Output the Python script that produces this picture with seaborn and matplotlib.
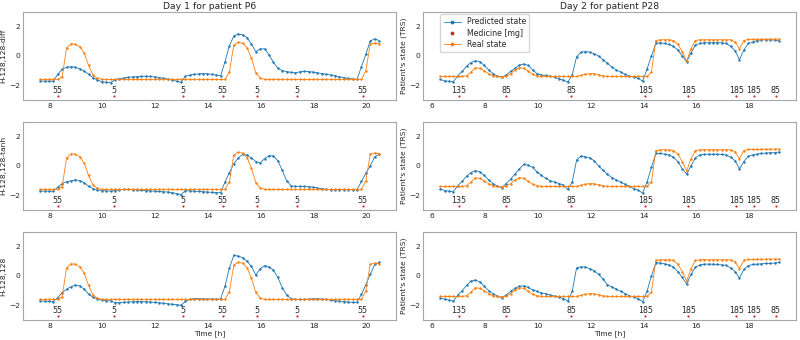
import numpy as np
import pandas as pd
import matplotlib
matplotlib.use("Agg")
import matplotlib.pyplot as plt
from matplotlib.lines import Line2D
from matplotlib.ticker import MultipleLocator
import seaborn as sns

# ---------------- data ----------------
# 10-minute sampling grids
t_day1 = 7.65 + np.arange(78) / 6.0
t_day2 = 6.30 + np.arange(78) / 6.0

real_day1 = [
    -1.6, -1.6, -1.6, -1.6, -1.6,
    -1.42, 0.55, 0.82, 0.8, 0.62, 0.2, -0.65, -1.3, -1.52,
    -1.6, -1.6, -1.6, -1.6, -1.6, -1.6, -1.6, -1.6, -1.6, -1.6,
    -1.6, -1.6, -1.6, -1.6, -1.6, -1.6, -1.6, -1.6, -1.6, -1.6,
    -1.6, -1.6, -1.6, -1.6, -1.6, -1.6, -1.6, -1.6, -1.6,
    -1.07, 0.75, 0.93, 0.87, 0.57, -0.16, -1.13, -1.5,
    -1.6, -1.6, -1.6, -1.6, -1.6, -1.6, -1.6, -1.6, -1.6, -1.6,
    -1.6, -1.6, -1.6, -1.6, -1.6, -1.6, -1.6, -1.6, -1.6, -1.6,
    -1.6, -1.6, -1.6,
    -1.0, 0.8, 0.88, 0.84,
]

pred_day1_diff = [
    -1.7, -1.72, -1.72, -1.72,
    -1.25, -0.91, -0.77, -0.73, -0.77, -0.89, -1.02, -1.25, -1.48, -1.64, -1.75, -1.8, -1.82,
    -1.62, -1.55, -1.5, -1.46, -1.43, -1.41, -1.39, -1.38, -1.4, -1.43, -1.47, -1.52, -1.58, -1.64, -1.72, -1.8,
    -1.38, -1.3, -1.25, -1.22, -1.2, -1.22, -1.25, -1.3, -1.36,
    -0.39, 0.7, 1.36, 1.5, 1.43, 1.25, 0.8, 0.3, 0.48, 0.48, 0.07, -0.43, -0.84, -1.0, -1.07,
    -1.12, -1.15, -1.08, -1.05, -1.07, -1.1, -1.15, -1.2, -1.25, -1.3, -1.35, -1.42, -1.48, -1.53, -1.57, -1.6,
    -0.73, 0.11, 1.02, 1.16, 1.05,
]

pred_day1_tanh = [
    -1.7, -1.72, -1.72, -1.72,
    -1.45, -1.2, -1.07, -1.02, -0.95, -1.0, -1.15, -1.38, -1.55, -1.63, -1.68, -1.7, -1.72,
    -1.68, -1.62, -1.6, -1.6, -1.62, -1.64, -1.66, -1.68, -1.7, -1.72, -1.74, -1.76, -1.78, -1.82, -1.88, -1.95,
    -1.68, -1.7, -1.72, -1.74, -1.76, -1.78, -1.8, -1.82, -1.82,
    -1.1, -0.45, 0.15, 0.55, 0.78, 0.75, 0.55, 0.3, 0.2, 0.5, 0.7, 0.68, 0.35, -0.3, -1.0,
    -1.35, -1.4, -1.4, -1.4, -1.42, -1.45, -1.5, -1.55, -1.6, -1.62, -1.62, -1.62, -1.62, -1.62, -1.62, -1.62,
    -1.05, -0.5, 0.0, 0.62, 0.78,
]

pred_day1_plain = [
    -1.7, -1.72, -1.74, -1.75,
    -1.48, -1.14, -0.91, -0.73, -0.63, -0.68, -0.91, -1.23, -1.45, -1.57, -1.64, -1.68, -1.7,
    -1.82, -1.82, -1.8, -1.78, -1.76, -1.75, -1.75, -1.76, -1.78, -1.8, -1.83, -1.86, -1.9, -1.93, -1.96, -2.0,
    -1.72, -1.6, -1.55, -1.55, -1.57, -1.57, -1.58, -1.58, -1.57,
    -0.7, 0.55, 1.4, 1.35, 1.25, 1.0, 0.65, 0.05, 0.5, 0.7, 0.6, 0.4, -0.1, -0.8, -1.3,
    -1.55, -1.6, -1.6, -1.6, -1.58, -1.56, -1.55, -1.58, -1.6, -1.65, -1.7, -1.72, -1.75, -1.78, -1.8, -1.8,
    -1.25, -0.6, 0.1, 0.78, 0.92,
]

real_day2 = [
    -1.4, -1.4, -1.4, -1.4, -1.4, -1.4,
    -1.35, -1.1, -0.8, -0.85, -1.0, -1.2, -1.35, -1.4, -1.42, -1.4, -1.2, -0.95, -0.8, -0.85, -1.05, -1.25, -1.35,
    -1.4, -1.4, -1.4, -1.4, -1.4, -1.4, -1.4, -1.4, -1.4,
    -1.32, -1.25, -1.2, -1.22, -1.28, -1.35,
    -1.4, -1.4, -1.4, -1.4, -1.4, -1.4, -1.4, -1.4, -1.4, -1.4,
    -1.1, 1.05, 1.1, 1.1, 1.1, 1.05, 0.8, 0.3, -0.35, 0.5, 1.05,
    1.1, 1.1, 1.1, 1.1, 1.1, 1.1, 1.1, 1.1,
    0.95, 0.5, 1.05,
    1.12, 1.12, 1.13, 1.13, 1.14, 1.14, 1.15, 1.15,
]

pred_day2_diff = [
    -1.6, -1.7, -1.73, -1.75, -1.35, -1.05, -0.7, -0.45, -0.33, -0.38, -0.65, -0.95, -1.2, -1.38, -1.45,
    -1.3, -1.05, -0.85, -0.62, -0.55, -0.65, -0.95, -1.2, -1.3, -1.33, -1.38, -1.45, -1.55, -1.65, -1.78,
    -1.3, -0.05, 0.25, 0.3, 0.25, 0.15, -0.02, -0.25, -0.5, -0.75, -0.95, -1.1, -1.25, -1.38, -1.45, -1.52, -1.72,
    -0.9, 0.0, 0.85, 0.9, 0.85, 0.78, 0.65, 0.4, 0.0, -0.4,
    0.2, 0.75, 0.85, 0.9, 0.9, 0.9, 0.9, 0.9, 0.85, 0.65, 0.35, -0.25, 0.4,
    0.85, 0.95, 1.05, 1.1, 1.1, 1.1, 1.08, 1.02,
]

pred_day2_tanh = [
    -1.55, -1.68, -1.72, -1.75, -1.35, -1.05, -0.7, -0.45, -0.32, -0.4, -0.65, -0.95, -1.2, -1.38, -1.48,
    -1.2, -0.9, -0.55, -0.2, 0.1, 0.05, -0.1, -0.4, -0.65, -0.85, -1.0, -1.1, -1.2, -1.3, -1.6,
    -1.1, 0.4, 0.68, 0.62, 0.55, 0.35, 0.0, -0.3, -0.55, -0.8, -0.95, -1.1, -1.25, -1.4, -1.55, -1.65, -1.85,
    -1.1, -0.1, 0.85, 0.85, 0.8, 0.75, 0.6, 0.3, -0.2, -0.55,
    0.0, 0.55, 0.75, 0.78, 0.8, 0.8, 0.8, 0.78, 0.75, 0.6, 0.35, -0.2, 0.3,
    0.65, 0.75, 0.8, 0.85, 0.88, 0.9, 0.9, 0.95,
]

pred_day2_plain = [
    -1.5, -1.58, -1.65, -1.72, -1.3, -1.0, -0.65, -0.35, -0.28, -0.4, -0.7, -1.0, -1.2, -1.38, -1.48,
    -1.3, -1.05, -0.85, -0.7, -0.68, -0.78, -0.95, -1.05, -1.15, -1.22, -1.3, -1.38, -1.45, -1.55, -1.7,
    -1.05, 0.55, 0.62, 0.6, 0.5, 0.35, 0.1, -0.2, -0.6, -0.75, -0.9, -1.05, -1.2, -1.35, -1.45, -1.55, -1.75,
    -1.05, 0.0, 0.9, 0.88, 0.82, 0.75, 0.6, 0.3, -0.1, -0.55,
    0.1, 0.6, 0.75, 0.8, 0.8, 0.8, 0.78, 0.75, 0.72, 0.55, 0.3, -0.15, 0.45,
    0.7, 0.78, 0.8, 0.82, 0.85, 0.85, 0.88, 0.92,
]

med_time_day1 = [8.32, 10.44, 13.06, 14.56, 15.87, 17.37, 19.86]
med_dose_day1 = [55, 5, 5, 55, 5, 5, 55]
med_time_day2 = [7.01, 8.81, 11.26, 14.06, 15.70, 17.52, 18.18, 19.01]
med_dose_day2 = [135, 85, 85, 185, 185, 185, 185, 85]

titles = ["Day 1 for patient P6", "Day 2 for patient P28"]
row_labels = ["H-128,128-diff", "H-128,128-tanh", "H-128,128"]
right_label = "Patient's state (TRS)"

# ---------------- style ----------------
BLUE = "#1f77b4"
ORANGE = "#ff7f0e"
RED = "#d62728"
MED_Y = -2.75
DOSE_Y = -2.38
FS = 5.4

sns.set_style("white", {"axes.edgecolor": "0.65"})
plt.rcParams["font.family"] = ["DejaVu Sans"]

fig, axes = plt.subplots(3, 2, figsize=(8, 3.4), dpi=100)
fig.subplots_adjust(left=0.029, right=0.995, bottom=0.059, top=0.965,
                    wspace=0.073, hspace=0.249)

days = [
    (t_day1, real_day1, [pred_day1_diff, pred_day1_tanh, pred_day1_plain],
     med_time_day1, med_dose_day1),
    (t_day2, real_day2, [pred_day2_diff, pred_day2_tanh, pred_day2_plain],
     med_time_day2, med_dose_day2),
]

for c, (t, real, preds, mt, md) in enumerate(days):
    for r in range(3):
        ax = axes[r, c]
        df = pd.DataFrame({"t": t, "pred": preds[r], "real": real})
        sns.lineplot(data=df, x="t", y="pred", ax=ax, color=BLUE, marker=".",
                     markersize=3.5, markeredgewidth=0, linewidth=0.6, legend=False)
        mdf = pd.DataFrame({"t": mt, "y": [MED_Y] * len(mt)})
        sns.scatterplot(data=mdf, x="t", y="y", ax=ax, color=RED, marker=".",
                        s=10, linewidth=0, legend=False)
        sns.lineplot(data=df, x="t", y="real", ax=ax, color=ORANGE, marker=".",
                     markersize=3.5, markeredgewidth=0, linewidth=0.6, legend=False)
        for tt, dd in zip(mt, md):
            ax.text(tt, DOSE_Y, str(dd), ha="center", va="center", fontsize=5.7)
        ax.set_ylim(-3, 3)
        ax.set_yticks([-2, 0, 2])
        ax.xaxis.set_major_locator(MultipleLocator(2))
        ax.tick_params(labelsize=FS, pad=2, length=0)
        ax.set_ylabel(row_labels[r] if c == 0 else right_label, fontsize=FS, labelpad=2)
        if r == 2:
            ax.set_xlabel("Time [h]", fontsize=FS, labelpad=1)
        else:
            ax.set_xlabel("")
        if r == 0:
            ax.set_title(titles[c], fontsize=6.7, pad=2)
        for s in ax.spines.values():
            s.set_linewidth(0.8)

handles = [
    Line2D([], [], color=BLUE, marker=".", markersize=3.5, linewidth=0.6),
    Line2D([], [], color=RED, marker=".", markersize=3.5, linestyle="none"),
    Line2D([], [], color=ORANGE, marker=".", markersize=3.5, linewidth=0.6),
]
axes[0, 1].legend(handles, ["Predicted state", "Medicine [mg]", "Real state"],
                  loc="upper left", bbox_to_anchor=(0.04, 1.0), fontsize=5.6,
                  frameon=True, borderaxespad=0.3, handlelength=2.2,
                  labelspacing=0.3)

fig.savefig("out.png", dpi=100)
